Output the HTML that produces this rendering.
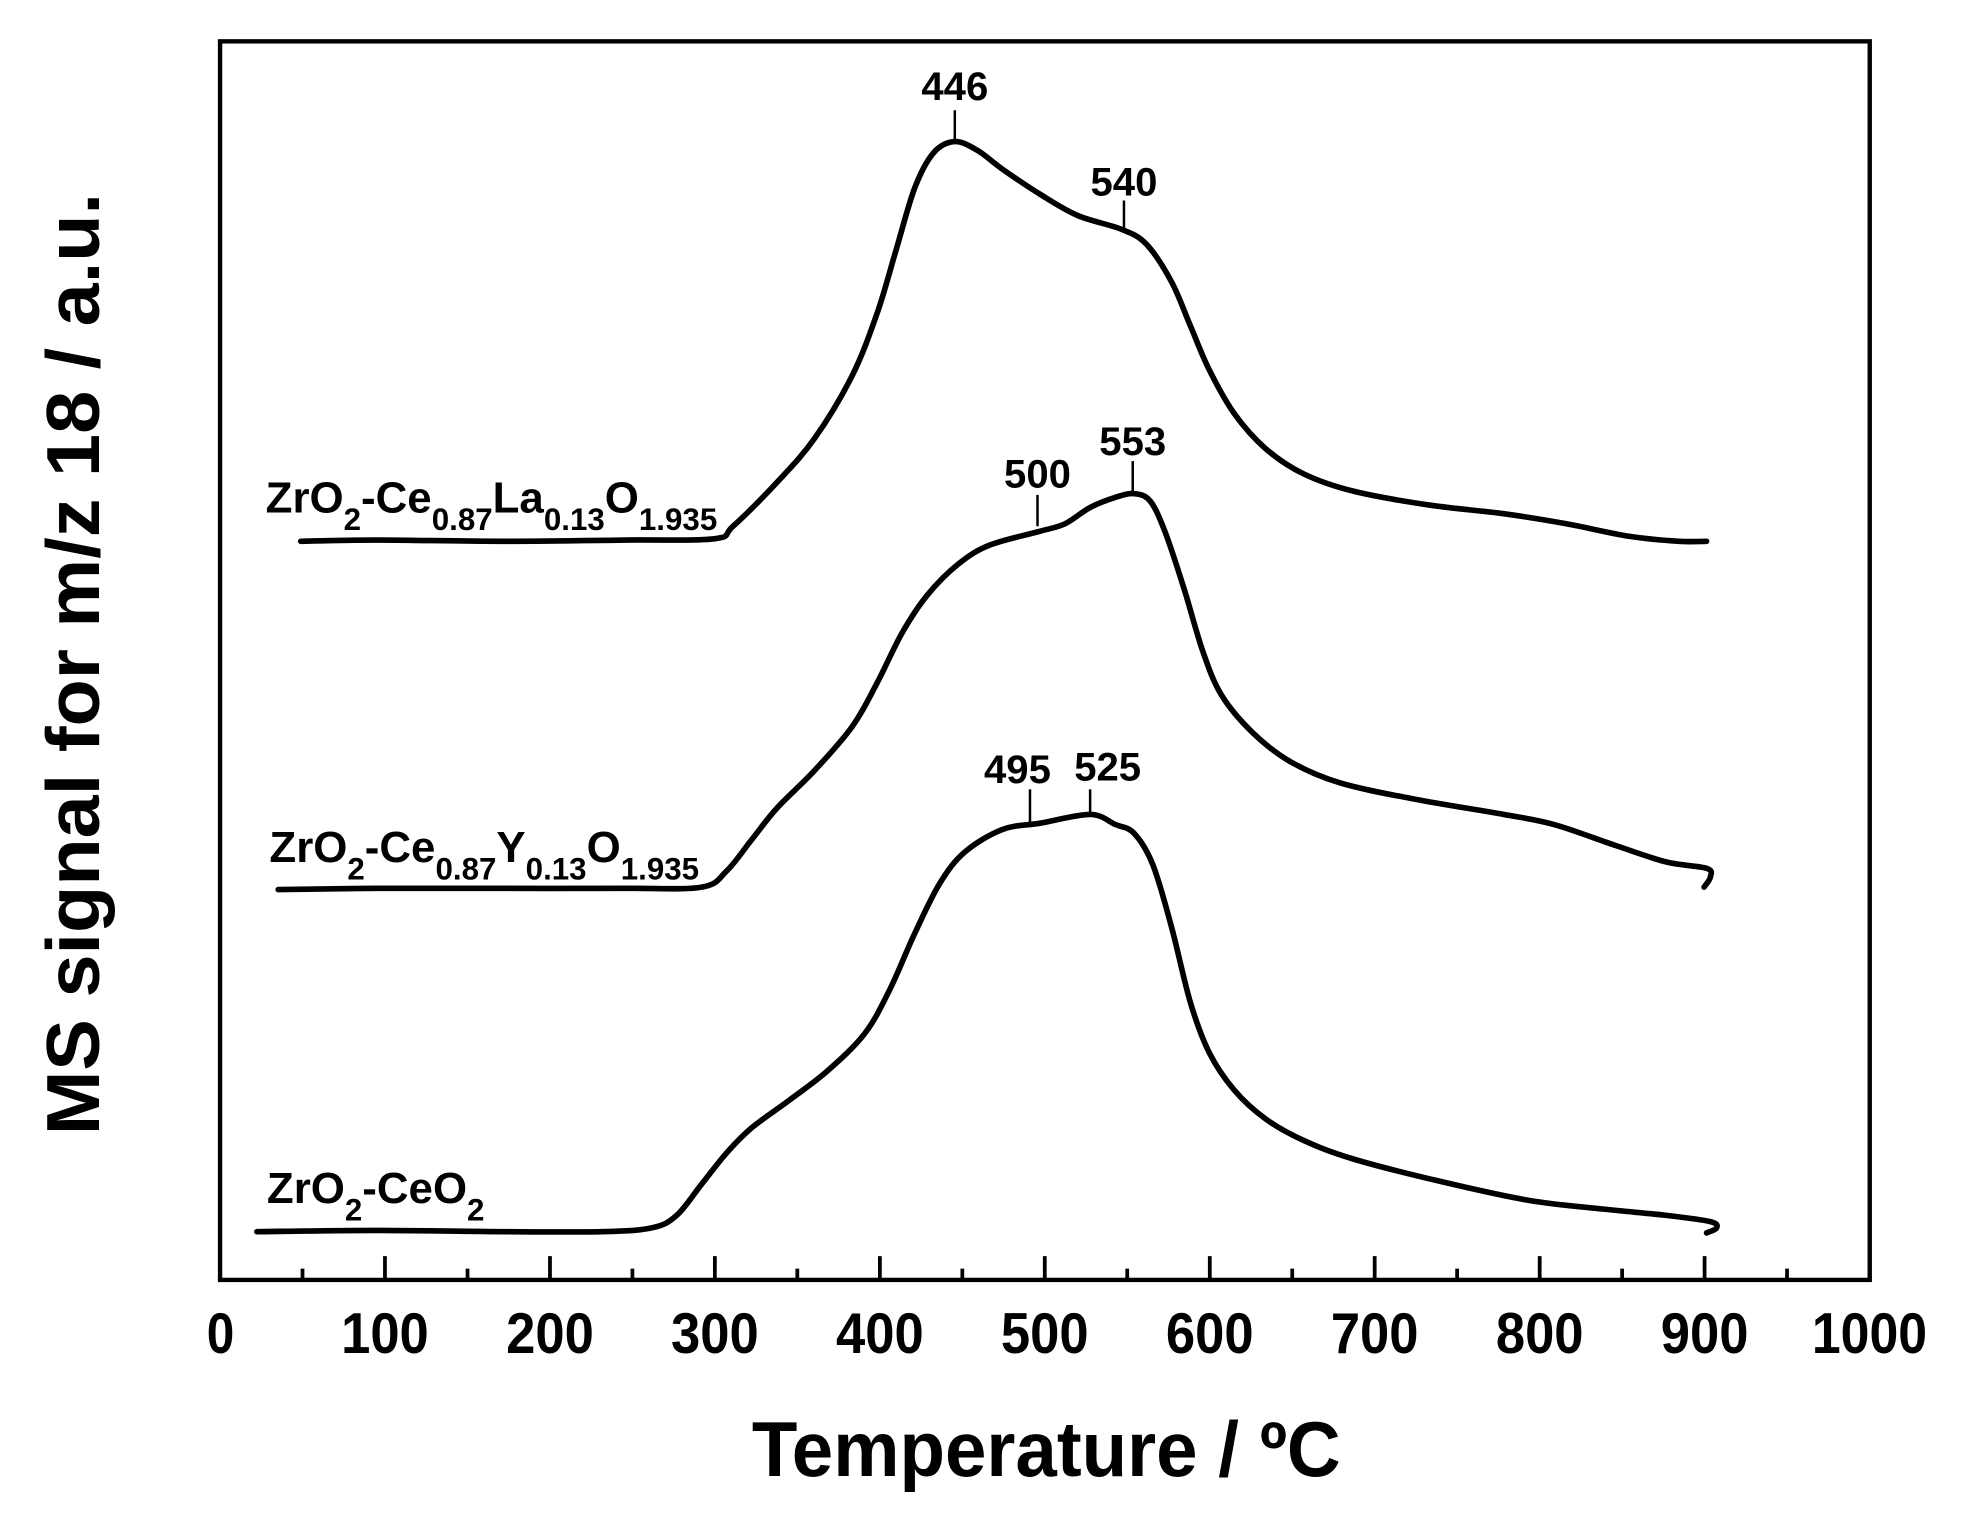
<!DOCTYPE html>
<html><head><meta charset="utf-8"><style>html,body{margin:0;padding:0;background:#fff}svg{display:block}</style></head>
<body>
<svg width="1965" height="1527" viewBox="0 0 1568.2 1218.7" xmlns="http://www.w3.org/2000/svg" font-family="Liberation Sans, Arial, sans-serif" font-weight="bold">
<rect width="1568.2" height="1218.7" fill="#fff"/>
<rect x="175.6" y="33" width="1316.6" height="988.5" fill="none" stroke="#000" stroke-width="3.5"/>
<g stroke="#000" stroke-width="3">
<path d="M241.4 1021.5v-9M307.2 1021.5v-19M373.1 1021.5v-9M438.9 1021.5v-19M504.7 1021.5v-9M570.5 1021.5v-19M636.3 1021.5v-9M702.2 1021.5v-19M768 1021.5v-9M833.8 1021.5v-19M899.6 1021.5v-9M965.5 1021.5v-19M1031.3 1021.5v-9M1097.1 1021.5v-19M1162.9 1021.5v-9M1228.8 1021.5v-19M1294.6 1021.5v-9M1360.4 1021.5v-19M1426.2 1021.5v-9"/>
</g>
<g font-size="46" text-anchor="middle">
<text x="176" y="1080" textLength="22" lengthAdjust="spacingAndGlyphs">0</text>
<text x="307.2" y="1080" textLength="70" lengthAdjust="spacingAndGlyphs">100</text>
<text x="438.9" y="1080" textLength="70" lengthAdjust="spacingAndGlyphs">200</text>
<text x="570.5" y="1080" textLength="70" lengthAdjust="spacingAndGlyphs">300</text>
<text x="702.2" y="1080" textLength="70" lengthAdjust="spacingAndGlyphs">400</text>
<text x="833.8" y="1080" textLength="70" lengthAdjust="spacingAndGlyphs">500</text>
<text x="965.5" y="1080" textLength="70" lengthAdjust="spacingAndGlyphs">600</text>
<text x="1097.1" y="1080" textLength="70" lengthAdjust="spacingAndGlyphs">700</text>
<text x="1228.8" y="1080" textLength="70" lengthAdjust="spacingAndGlyphs">800</text>
<text x="1360.4" y="1080" textLength="70" lengthAdjust="spacingAndGlyphs">900</text>
<text x="1492" y="1080" textLength="92" lengthAdjust="spacingAndGlyphs">1000</text>
</g>
<text x="835" y="1178" font-size="62" text-anchor="middle" textLength="470" lengthAdjust="spacingAndGlyphs">Temperature / ºC</text>
<text transform="translate(79,530) rotate(-90)" font-size="60" text-anchor="middle" textLength="752" lengthAdjust="spacingAndGlyphs">MS signal for m/z 18 / a.u.</text>
<g fill="none" stroke="#000" stroke-width="4.5" stroke-linejoin="round" stroke-linecap="round">
<polyline class="c" points="240,432 300,431 400,432 500,431 570,430 585,420 620,385 650,350 680,300 700,250 715,200 730,150 745,122 762,113 780,120 800,135 830,155 860,172 895,183 915,195 935,225 950,260 965,295 985,330 1010,358 1040,378 1080,392 1140,403 1200,410 1250,418 1300,428 1340,432 1362,432"/>
<polyline class="c" points="222,710 300,709 400,709 500,709 560,708 580,695 600,670 620,645 650,615 680,580 700,545 720,505 740,475 765,450 790,435 830,424 850,418 870,405 890,397 905,394 918,400 930,425 945,470 960,520 975,555 1000,585 1030,608 1070,625 1130,638 1200,650 1240,658 1290,675 1330,688 1362,693 1365,700 1360,708"/>
<polyline class="c" points="205,983 300,982 400,983 480,983 520,980 540,970 560,945 580,920 600,900 630,878 660,855 690,825 710,790 730,745 750,705 770,680 800,662 830,657 870,650 890,658 905,665 920,690 935,740 950,800 965,840 985,870 1010,893 1040,910 1080,925 1150,943 1220,958 1280,965 1330,970 1365,975 1370,980 1362,984"/>
</g>
<g stroke="#000" stroke-width="2">
<path d="M762 88V113M897 160V185M828 395V420M904 368V393M822 630V656M870 630V651"/>
</g>
<g font-size="32" text-anchor="middle">
<text x="762" y="80">446</text>
<text x="897" y="156">540</text>
<text x="828" y="389">500</text>
<text x="904" y="363">553</text>
<text x="812" y="625">495</text>
<text x="884" y="623">525</text>
</g>
<g font-size="35">
<text x="212" y="409">ZrO<tspan font-size="25" dy="14">2</tspan><tspan dy="-14">-Ce</tspan><tspan font-size="25" dy="14">0.87</tspan><tspan dy="-14">La</tspan><tspan font-size="25" dy="14">0.13</tspan><tspan dy="-14">O</tspan><tspan font-size="25" dy="14">1.935</tspan></text>
<text x="215" y="688">ZrO<tspan font-size="25" dy="14">2</tspan><tspan dy="-14">-Ce</tspan><tspan font-size="25" dy="14">0.87</tspan><tspan dy="-14">Y</tspan><tspan font-size="25" dy="14">0.13</tspan><tspan dy="-14">O</tspan><tspan font-size="25" dy="14">1.935</tspan></text>
<text x="213" y="960">ZrO<tspan font-size="25" dy="14">2</tspan><tspan dy="-14">-CeO</tspan><tspan font-size="25" dy="14">2</tspan></text>
</g>
</svg>
<script>
document.querySelectorAll('polyline.c').forEach(function(pl){
 var p=pl.getAttribute('points').trim().split(/\s+/).map(function(s){return s.split(',').map(Number)});
 var d='M'+p[0][0]+' '+p[0][1];
 for(var i=0;i<p.length-1;i++){
  var p0=p[i-1]||p[i],p1=p[i],p2=p[i+1],p3=p[i+2]||p2;
  var c1x=p1[0]+(p2[0]-p0[0])/6,c1y=p1[1]+(p2[1]-p0[1])/6,c2x=p2[0]-(p3[0]-p1[0])/6,c2y=p2[1]-(p3[1]-p1[1])/6;
  d+=' C'+c1x+' '+c1y+' '+c2x+' '+c2y+' '+p2[0]+' '+p2[1];
 }
 var path=document.createElementNS('http://www.w3.org/2000/svg','path');
 path.setAttribute('d',d);
 pl.parentNode.replaceChild(path,pl);
});
</script>
</body></html>
